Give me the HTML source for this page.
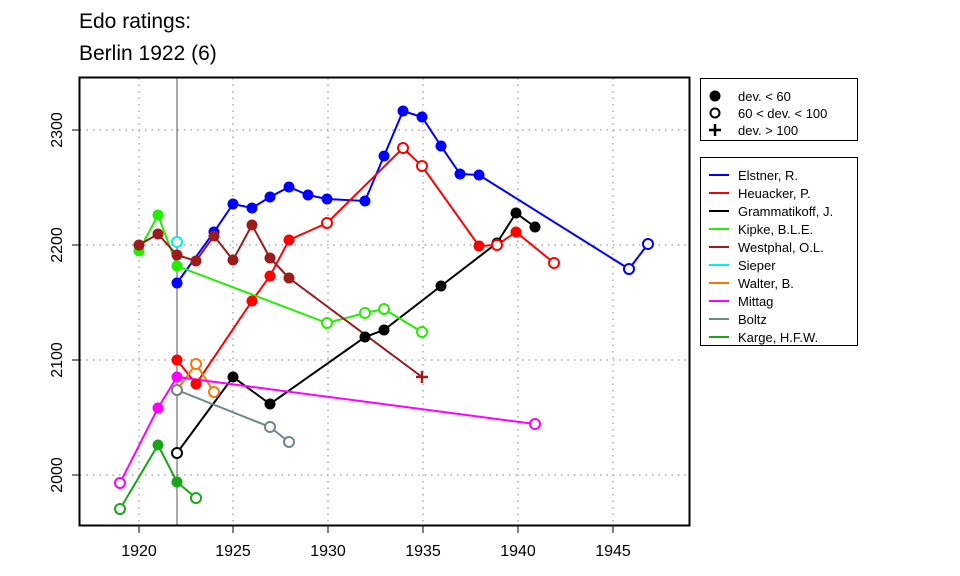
<!DOCTYPE html>
<html><head><style>body{margin:0;background:#fff}svg{display:block;font-family:"Liberation Sans",sans-serif}</style></head><body>
<svg width="960" height="576" viewBox="0 0 960 576">
<text x="79" y="28" font-size="21">Edo ratings:</text>
<text x="79" y="60" font-size="21">Berlin 1922 (6)</text>
<g stroke="#999" stroke-dasharray="1.5,5" stroke-width="1.2">
<line x1="139" y1="78" x2="139" y2="525"/><line x1="233" y1="78" x2="233" y2="525"/><line x1="328" y1="78" x2="328" y2="525"/><line x1="423" y1="78" x2="423" y2="525"/><line x1="518" y1="78" x2="518" y2="525"/><line x1="613" y1="78" x2="613" y2="525"/>
<line x1="80" y1="130" x2="688" y2="130"/><line x1="80" y1="245" x2="688" y2="245"/><line x1="80" y1="360" x2="688" y2="360"/><line x1="80" y1="475" x2="688" y2="475"/>
</g>
<line x1="177" y1="78" x2="177" y2="525" stroke="#555" stroke-width="1"/>
<rect x="79.5" y="77.5" width="610" height="448" fill="none" stroke="#000" stroke-width="2"/>
<g stroke="#000" stroke-width="1">
<line x1="139" y1="526" x2="139" y2="533"/><line x1="233" y1="526" x2="233" y2="533"/><line x1="328" y1="526" x2="328" y2="533"/><line x1="423" y1="526" x2="423" y2="533"/><line x1="518" y1="526" x2="518" y2="533"/><line x1="613" y1="526" x2="613" y2="533"/>
<line x1="72" y1="130" x2="79" y2="130"/><line x1="72" y1="245" x2="79" y2="245"/><line x1="72" y1="360" x2="79" y2="360"/><line x1="72" y1="475" x2="79" y2="475"/>
</g>
<g font-size="16" text-anchor="middle">
<text x="139" y="556">1920</text><text x="233" y="556">1925</text><text x="328" y="556">1930</text><text x="423" y="556">1935</text><text x="518" y="556">1940</text><text x="613" y="556">1945</text>
<text transform="translate(62,130) rotate(-90)">2300</text><text transform="translate(62,245) rotate(-90)">2200</text><text transform="translate(62,360) rotate(-90)">2100</text><text transform="translate(62,475) rotate(-90)">2000</text>
</g>
<g fill="none" stroke-width="2">
<polyline stroke="#0000ff" points="177,283 214,232 233,204 252,208 270,197 289,187 308,195 327,199 365,201 384,156 403,111 422,117 441,146 460,174 479,175 629,269 648,244"/>
<polyline stroke="#ff0000" points="177,360 196,384 252,301 270,276 289,240 327,223 403,148 422,166 479,246 497,245 516,232 554,263"/>
<polyline stroke="#000" points="177,453 233,377 270,404 365,337 384,330 441,286 497,243 516,213 535,227"/>
<polyline stroke="#22ee00" points="139,251 158,215 177,266 327,323 365,313 384,309 422,332"/>
<polyline stroke="#9b1c1c" points="139,245 158,234 177,255 196,261 214,236 233,260 252,225 270,258 289,278 422,377"/>
<polyline stroke="#ff7700" points="177,390 196,364 214,392"/>
<polyline stroke="#ff00ff" points="120,483 158,408 177,377 535,424"/>
<polyline stroke="#6e878a" points="177,390 270,427 289,442"/>
<polyline stroke="#19a519" points="120,509 158,445 177,482 196,498"/>
</g>
<g stroke="none">
<g fill="#0000ff"><circle cx="177" cy="283" r="5.5"/><circle cx="214" cy="232" r="5.5"/><circle cx="233" cy="204" r="5.5"/><circle cx="252" cy="208" r="5.5"/><circle cx="270" cy="197" r="5.5"/><circle cx="289" cy="187" r="5.5"/><circle cx="308" cy="195" r="5.5"/><circle cx="327" cy="199" r="5.5"/><circle cx="365" cy="201" r="5.5"/><circle cx="384" cy="156" r="5.5"/><circle cx="403" cy="111" r="5.5"/><circle cx="422" cy="117" r="5.5"/><circle cx="441" cy="146" r="5.5"/><circle cx="460" cy="174" r="5.5"/><circle cx="479" cy="175" r="5.5"/></g>
<g fill="#ff0000"><circle cx="177" cy="360" r="5.5"/><circle cx="196" cy="384" r="5.5"/><circle cx="252" cy="301" r="5.5"/><circle cx="270" cy="276" r="5.5"/><circle cx="289" cy="240" r="5.5"/><circle cx="479" cy="246" r="5.5"/><circle cx="516" cy="232" r="5.5"/></g>
<g fill="#000"><circle cx="233" cy="377" r="5.5"/><circle cx="270" cy="404" r="5.5"/><circle cx="365" cy="337" r="5.5"/><circle cx="384" cy="330" r="5.5"/><circle cx="441" cy="286" r="5.5"/><circle cx="497" cy="243" r="5.5"/><circle cx="516" cy="213" r="5.5"/><circle cx="535" cy="227" r="5.5"/></g>
<g fill="#22ee00"><circle cx="139" cy="251" r="5.5"/><circle cx="158" cy="215" r="5.5"/><circle cx="177" cy="266" r="5.5"/></g>
<g fill="#9b1c1c"><circle cx="139" cy="245" r="5.5"/><circle cx="158" cy="234" r="5.5"/><circle cx="177" cy="255" r="5.5"/><circle cx="196" cy="261" r="5.5"/><circle cx="214" cy="236" r="5.5"/><circle cx="233" cy="260" r="5.5"/><circle cx="252" cy="225" r="5.5"/><circle cx="270" cy="258" r="5.5"/><circle cx="289" cy="278" r="5.5"/></g>
<g fill="#ff00ff"><circle cx="158" cy="408" r="5.5"/><circle cx="177" cy="377" r="5.5"/></g>
<g fill="#19a519"><circle cx="158" cy="445" r="5.5"/><circle cx="177" cy="482" r="5.5"/></g>
</g>
<g fill="#fff" stroke-width="2">
<circle cx="629" cy="269" r="5" stroke="#0000ff"/><circle cx="648" cy="244" r="5" stroke="#0000ff"/>
<circle cx="327" cy="223" r="5" stroke="#ff0000"/><circle cx="403" cy="148" r="5" stroke="#ff0000"/><circle cx="422" cy="166" r="5" stroke="#ff0000"/><circle cx="497" cy="245" r="5" stroke="#ff0000"/><circle cx="554" cy="263" r="5" stroke="#ff0000"/>
<circle cx="177" cy="453" r="5" stroke="#000"/>
<circle cx="327" cy="323" r="5" stroke="#22ee00"/><circle cx="365" cy="313" r="5" stroke="#22ee00"/><circle cx="384" cy="309" r="5" stroke="#22ee00"/><circle cx="422" cy="332" r="5" stroke="#22ee00"/>
<circle cx="177" cy="242" r="5" stroke="#00eeee"/>
<circle cx="177" cy="390" r="5" stroke="#ff7700"/><circle cx="196" cy="364" r="5" stroke="#ff7700"/><circle cx="214" cy="392" r="5" stroke="#ff7700"/>
<circle cx="120" cy="483" r="5" stroke="#ff00ff"/><circle cx="535" cy="424" r="5" stroke="#ff00ff"/>
<circle cx="177" cy="390" r="5" stroke="#6e878a" fill="none"/><circle cx="270" cy="427" r="5" stroke="#6e878a"/><circle cx="289" cy="442" r="5" stroke="#6e878a"/>
<circle cx="120" cy="509" r="5" stroke="#19a519"/><circle cx="196" cy="498" r="5" stroke="#19a519"/>
</g>
<path d="M416 377h12M422 371v12" stroke="#9b1c1c" stroke-width="2.5"/>
<rect x="700.5" y="78.5" width="157" height="62" fill="none" stroke="#000"/>
<circle cx="715" cy="96" r="5.5"/><circle cx="715" cy="113" r="4.5" fill="none" stroke="#000" stroke-width="2"/><path d="M709 130h12M715 124v12" stroke="#000" stroke-width="2.5"/>
<g font-size="13"><text x="738" y="101">dev. &lt; 60</text><text x="738" y="118">60 &lt; dev. &lt; 100</text><text x="738" y="135">dev. &gt; 100</text></g>
<rect x="700.5" y="157.5" width="157" height="188" fill="none" stroke="#000"/>
<g stroke-width="2">
<line x1="709" y1="175" x2="729" y2="175" stroke="#0000ff"/><line x1="709" y1="193" x2="729" y2="193" stroke="#ff0000"/><line x1="709" y1="211" x2="729" y2="211" stroke="#000"/><line x1="709" y1="229" x2="729" y2="229" stroke="#22ee00"/><line x1="709" y1="247" x2="729" y2="247" stroke="#9b1c1c"/><line x1="709" y1="265" x2="729" y2="265" stroke="#00eeee"/><line x1="709" y1="283" x2="729" y2="283" stroke="#ff7700"/><line x1="709" y1="301" x2="729" y2="301" stroke="#ff00ff"/><line x1="709" y1="319" x2="729" y2="319" stroke="#6e878a"/><line x1="709" y1="337" x2="729" y2="337" stroke="#19a519"/>
</g>
<g font-size="13"><text x="738" y="180">Elstner, R.</text><text x="738" y="198">Heuacker, P.</text><text x="738" y="216">Grammatikoff, J.</text><text x="738" y="234">Kipke, B.L.E.</text><text x="738" y="252">Westphal, O.L.</text><text x="738" y="270">Sieper</text><text x="738" y="288">Walter, B.</text><text x="738" y="306">Mittag</text><text x="738" y="324">Boltz</text><text x="738" y="342">Karge, H.F.W.</text></g>
</svg>
</body></html>
